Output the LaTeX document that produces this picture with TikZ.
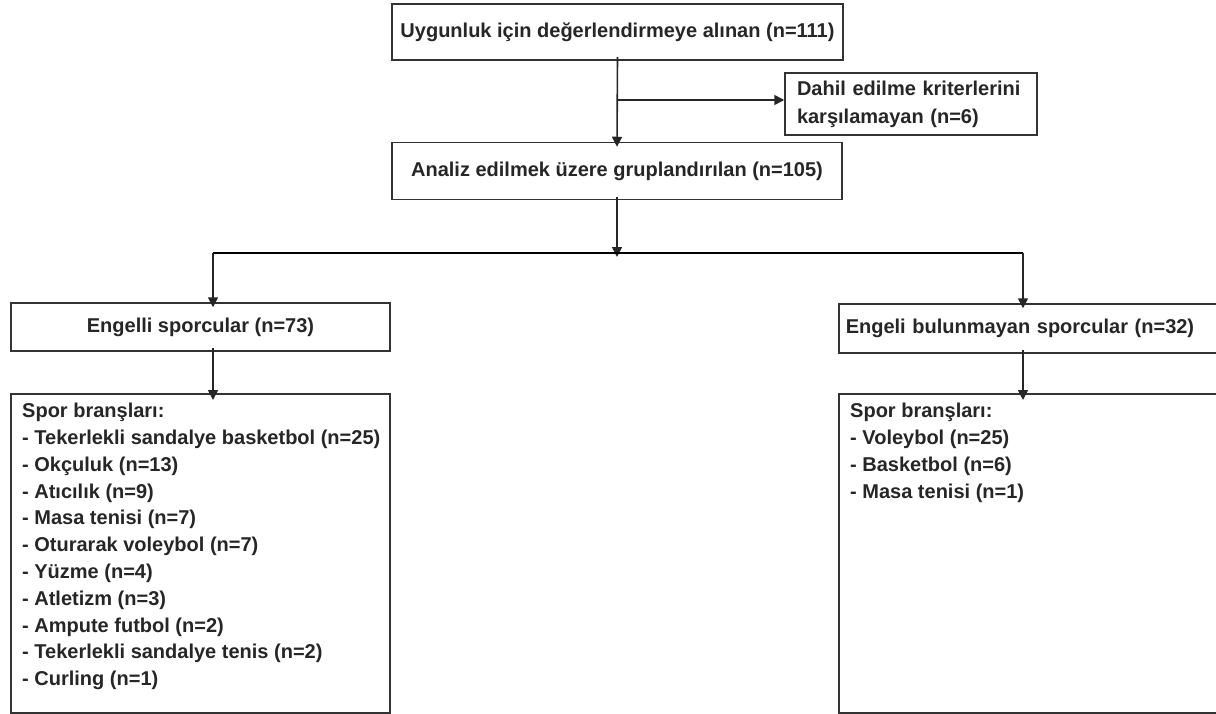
\documentclass[tikz,border=0pt]{standalone}
\usepackage{fontspec}
\setmainfont{Liberation Sans}
\usetikzlibrary{arrows.meta}
\begin{document}
\begin{tikzpicture}[x=1pt,y=-1pt,
  box/.style={draw=black!80,line width=1.5pt,inner sep=0pt,font=\fontsize{20}{26}\selectfont\bfseries,text=black!85},
  arr/.style={line width=1.6pt,draw=black!85,-{Triangle[length=10pt,width=10pt]}},
  listtext/.style={anchor=north west,align=left,inner sep=0pt,font=\fontsize{20}{26.8}\selectfont\bfseries,text=black!85}]
\clip (0,0) rectangle (1216,713);
\fill[white] (0,0) rectangle (1216,713);
\node[box,minimum width=451pt,minimum height=56pt] (b1) at (617.5,32) {Uygunluk için değerlendirmeye alınan (n=111)};
\node[box,minimum width=252pt,minimum height=62pt,align=left,text width=228pt,font=\fontsize{20}{28}\selectfont\bfseries] (ex) at (911,104) {Dahil edilme kriterlerini\\karşılamayan (n=6)};
\node[box,minimum width=450pt,minimum height=57pt] (b2) at (617,171) {Analiz edilmek üzere gruplandırılan (n=105)};
\node[box,minimum width=379pt,minimum height=48pt] (g1) at (200.5,327) {Engelli sporcular (n=73)};
\node[box,minimum width=384pt,minimum height=49pt,anchor=west,text width=370pt,align=left] (g2) at (838,328.5) {Engeli bulunmayan sporcular (n=32)};
\node[box,minimum width=379pt,minimum height=319pt,anchor=north west] (l1) at (10,393) {};
\node[box,minimum width=384pt,minimum height=319pt,anchor=north west] (l2) at (838,393) {};
\node[listtext] (t1) at ([shift={(12pt,-10pt)}]l1.north west) {Spor branşları:\\- Tekerlekli sandalye basketbol (n=25)\\- Okçuluk (n=13)\\- Atıcılık (n=9)\\- Masa tenisi (n=7)\\- Oturarak voleybol (n=7)\\- Yüzme (n=4)\\- Atletizm (n=3)\\- Ampute futbol (n=2)\\- Tekerlekli sandalye tenis (n=2)\\- Curling (n=1)};
\node[listtext] (t2) at ([shift={(12pt,-10pt)}]l2.north west) {Spor branşları:\\- Voleybol (n=25)\\- Basketbol (n=6)\\- Masa tenisi (n=1)};
\coordinate (s1) at (617,100);
\coordinate (bl) at (213,253);
\coordinate (br) at (1023,253);
\coordinate (bm) at (617,253);
\draw[arr] ([yshift=4pt]b1.south) -- ([yshift=-5pt]b2.north);
\draw[arr] (s1) -- (s1 -| ex.west);
\draw[arr] ([yshift=3pt]b2.south) -- ([yshift=-4pt]bm);
\draw[line width=2.8pt,black] (bl) -- (br);
\draw[arr] (bl) -- ([yshift=-5pt]g1.north -| bl);
\draw[arr] (br) -- ([yshift=-5pt]g2.north -| br);
\draw[arr] ([yshift=4pt]g1.south -| bl) -- ([yshift=-7pt]l1.north -| bl);
\draw[arr] ([yshift=4pt]g2.south -| br) -- ([yshift=-7pt]l2.north -| br);
\end{tikzpicture}
\end{document}
